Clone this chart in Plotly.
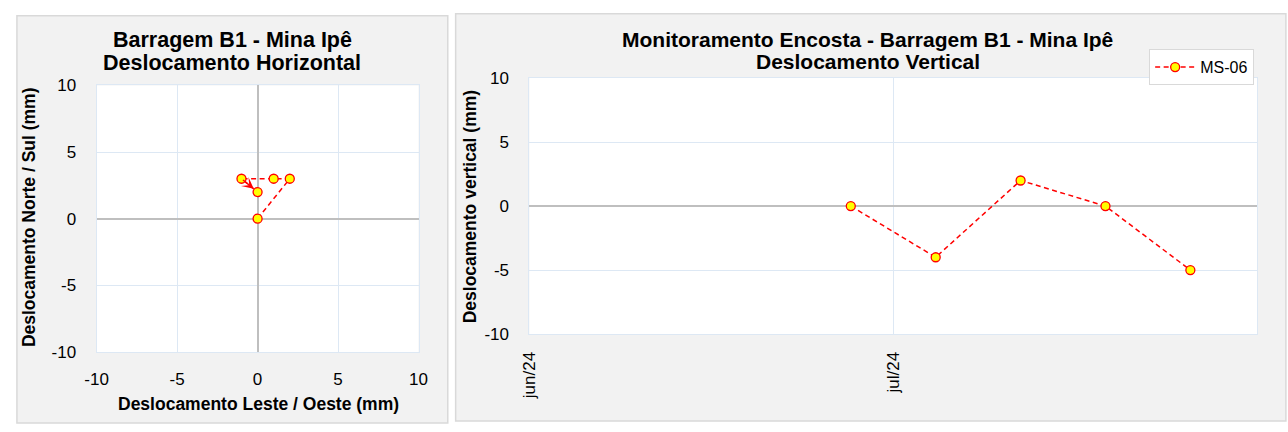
import plotly.graph_objects as go

# ---- data ----
h_east = [0, 2, 1, -1, 0]          # Deslocamento Leste / Oeste (mm)
h_north = [0, 3, 3, 3, 2]          # Deslocamento Norte / Sul (mm)
v_dates = ["2024-06-27 12:00", "2024-07-04 12:00", "2024-07-11 12:00",
           "2024-07-18 12:00", "2024-07-25 12:00"]
v_disp = [0, -4, 2, 0, -5]         # Deslocamento vertical (mm)
series_name = "MS-06"
date_tick_vals = ["2024-06-01", "2024-07-01"]
date_tick_text = ["jun/24", "jul/24"]
num_ticks = [-10, -5, 0, 5, 10]
num_tick_text = ["-10", "-5", "0", "5", "10"]

W, H = 1288, 432
FONT = "Liberation Sans, Arial, sans-serif"
RED = "#ff0000"
GRID = "#dde8f4"
ZERO = "#bfbfbf"

def px(x):
    return x / W

def py(y):
    return 1 - y / H

fig = go.Figure()

marker = dict(size=9, color="#ffff00", line=dict(color=RED, width=1.3))
line = dict(color=RED, width=1.5, dash="5px,3.5px")

fig.add_trace(go.Scatter(x=h_east, y=h_north, mode="lines+markers",
                         line=line, marker=marker, showlegend=False,
                         xaxis="x", yaxis="y"))
fig.add_trace(go.Scatter(x=v_dates, y=v_disp, mode="lines+markers",
                         line=line, marker=marker, name=series_name,
                         showlegend=True, xaxis="x2", yaxis="y2"))

# arrow on last horizontal segment
fig.add_annotation(x=h_east[-1], y=h_north[-1], ax=h_east[-2], ay=h_north[-2],
                   xref="x", yref="y", axref="x", ayref="y",
                   showarrow=True, arrowhead=3, arrowsize=1.3, arrowwidth=1.5,
                   arrowcolor=RED, standoff=5, text="")

# panel backgrounds
fig.add_shape(type="rect", xref="paper", yref="paper",
              x0=px(5), x1=px(443), y0=py(433), y1=py(7),
              fillcolor="#f2f2f2", line=dict(color="#d9d9d9", width=1.5), layer="below")
fig.add_shape(type="rect", xref="paper", yref="paper",
              x0=px(451), x1=px(1295), y0=py(431), y1=py(5),
              fillcolor="#f2f2f2", line=dict(color="#d9d9d9", width=1.5), layer="below")
# plot area backgrounds
fig.add_shape(type="rect", xref="paper", yref="paper",
              x0=px(86), x1=px(413.3), y0=py(358.7), y1=py(80),
              fillcolor="white", line=dict(width=0), layer="below")
fig.add_shape(type="rect", xref="paper", yref="paper",
              x0=px(526), x1=px(1265.7), y0=py(340), y1=py(72.3),
              fillcolor="white", line=dict(width=0), layer="below")

tickfont = dict(family=FONT, size=17, color="#000000")
axcommon = dict(showgrid=True, gridcolor=GRID, gridwidth=1, zeroline=True,
                zerolinecolor=ZERO, zerolinewidth=2, showline=True, linecolor=GRID,
                linewidth=1, mirror=True, tickfont=tickfont, ticks="")
axdate = {k: v for k, v in axcommon.items()
          if k not in ("zeroline", "zerolinecolor", "zerolinewidth")}

fig.update_layout(
    autosize=True, margin=dict(l=0, r=0, t=0, b=0, pad=0),
    paper_bgcolor="white", plot_bgcolor="rgba(0,0,0,0)",
    font=dict(family=FONT, color="#000000"),
    xaxis=dict(domain=[px(86), px(413.3)], range=[-10, 10], tickvals=num_ticks,
               ticktext=num_tick_text, anchor="y", ticklabelstandoff=12, **axcommon),
    yaxis=dict(domain=[py(358.7), py(80)], range=[-10, 10], tickvals=num_ticks,
               ticktext=num_tick_text, anchor="x", ticklabelstandoff=16, **axcommon),
    xaxis2=dict(domain=[px(526), px(1265.7)], type="date",
                range=["2024-06-01", "2024-07-31"], tickvals=date_tick_vals,
                ticktext=date_tick_text, tickangle=-90, anchor="y2",
                ticklabelstandoff=10, **axdate),
    yaxis2=dict(domain=[py(340), py(72.3)], range=[-10, 10], tickvals=num_ticks,
                ticktext=num_tick_text, anchor="x2", ticklabelstandoff=16, **axcommon),
    legend=dict(x=px(1156), y=py(42), xanchor="left", yanchor="top",
                bgcolor="white", bordercolor="#d9d9d9", borderwidth=1,
                font=dict(family=FONT, size=16, color="#000000"),
                itemwidth=40, tracegroupgap=0),
)

def add_text(x, y, text, size, angle=0):
    fig.add_annotation(x=px(x), y=py(y), xref="paper", yref="paper",
                       text=text, textangle=angle, showarrow=False,
                       font=dict(family=FONT, size=size, color="#000000"),
                       xanchor="center", yanchor="middle")

add_text(224, 32, "<b>Barragem B1 - Mina Ipê</b>", 21.5)
add_text(224, 57, "<b>Deslocamento Horizontal</b>", 21.5)
add_text(870, 31.5, "<b>Monitoramento Encosta - Barragem B1 - Mina Ipê</b>", 21)
add_text(870, 55, "<b>Deslocamento Vertical</b>", 21)
add_text(251, 413, "<b>Deslocamento Leste / Oeste (mm)</b>", 17.5)
add_text(18, 218, "<b>Deslocamento Norte / Sul (mm)</b>", 17.5, -90)
add_text(465, 207, "<b>Deslocamento vertical (mm)</b>", 17.5, -90)

post = ("document.body.style.margin='0';document.body.style.padding='0';"
        "document.documentElement.style.overflow='hidden';"
        "document.body.style.overflow='hidden';")

fig.write_html("out.html", post_script=post, default_width="100vw",
               default_height="100vh",
               config={"displayModeBar": False, "responsive": True})
